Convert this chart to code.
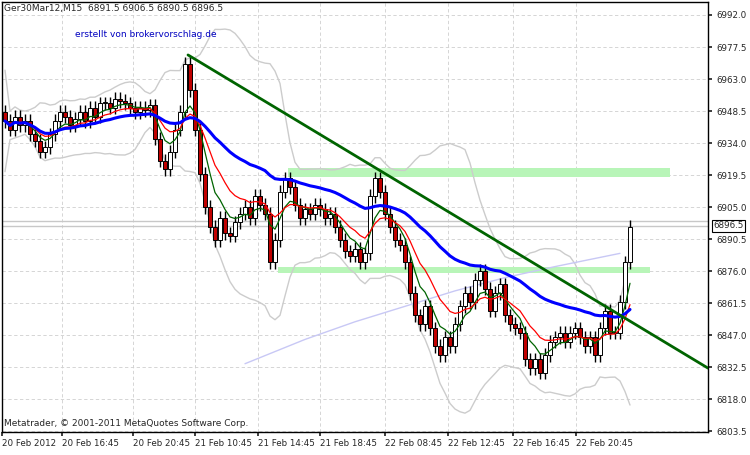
import numpy as np, pandas as pd, matplotlib
matplotlib.use("Agg")
import matplotlib.pyplot as plt, seaborn as sns
from matplotlib.patches import Rectangle

closes = [6944,6940,6946,6942,6944,6938, 6935,6930,6932,6938, 6944,6948,6946,6942,
 6945,6948,6944,6950,6946,6952, 6952,6950,6954,6953,6952,6950,6948,6950,6949,6951,
 6936,6926,6922,6930,6940,6948, 6970,6958,6940,6920, 6905,6896,6890,6900,6893,6892,6898,6902,
 6905,6900,6910,6906,6902,6880,6890, 6912,6918,6914,6906,6900, 6904,6902,6906,6904,6900,6902,
 6896,6890,6885,6883,6886, 6880,6884,6910,6918,6912, 6902,6896,6890,6888,6880,
 6866,6856,6852,6860,6850,6842, 6838,6846,6842,6852,6860, 6866,6862,6872,6876,6868,6858,
 6866,6870,6856,6852,6850,6848, 6836,6832,6836,6830,6838,6844, 6846,6848,6844,6848,6850,6846,
 6842,6846,6838,6850,6858,6848, 6848,6862,6880,6896]
first_open = 6948
slow_i = [48, 60, 70, 80, 90, 100, 110, 123]
slow_v = [6834, 6845, 6853, 6860, 6867, 6873, 6878, 6884]
yticks = [6992.0,6977.5,6963.0,6948.5,6934.0,6919.5,6905.0,6890.5,6876.0,6861.5,6847.0,6832.5,6818.0,6803.5]
xlabels = ["20 Feb 2012","20 Feb 16:45","20 Feb 20:45","21 Feb 10:45","21 Feb 14:45",
           "21 Feb 18:45","22 Feb 08:45","22 Feb 12:45","22 Feb 16:45","22 Feb 20:45"]
xlabel_px = [2,62,133,195,258,320,385,448,513,576]
trend_x = [36.6, 140.6]; trend_y = [6973.9, 6832.0]
zones = [(56.6, 133.0, 6918.6, 6922.7), (54.6, 129.0, 6875.1, 6877.8)]
last_price = 6896.5

sns.set_theme(style="white")
plt.rcParams['font.family'] = ['DejaVu Sans']
c = np.array(closes, float); n = len(c)
o = np.concatenate([[first_open], c[:-1]])
h = np.maximum(o, c) + 3; l = np.minimum(o, c) - 3
idx = np.arange(n)
s = pd.Series(c)
fig = plt.figure(figsize=(7.5, 4.55), dpi=100)
ax = fig.add_axes([2/750, 23/455, 706/750, 430/455])
px2i = lambda p: (p - 5) / 5
ax.set_xlim(px2i(2), px2i(708)); ax.set_ylim(6992 - 0.4531*(432-15), 6992 + 0.4531*13)
for y in yticks:
    ax.axhline(y, color="#cfcfcf", lw=0.6, ls=(0, (4, 3)), zorder=0)
for p in xlabel_px[1:]:
    ax.axvline(px2i(p), color="#cfcfcf", lw=0.6, ls=(0, (4, 3)), zorder=0)
ax.axhline(6898.7, color="#c8c8c8", lw=1, zorder=1)
ax.axhline(last_price, color="#c8c8c8", lw=1, zorder=1)
for x0, x1, y0, y1 in zones:
    ax.add_patch(Rectangle((x0, y0), x1-x0, y1-y0, color="#b8f5b8", zorder=1, lw=0))
mid = s.rolling(20, min_periods=1).mean(); sd = s.rolling(20, min_periods=2).std().fillna(10)
df = pd.DataFrame({"i": idx, "up": mid+2.3*sd, "lo": mid-2.3*sd,
                   "blue": s.ewm(span=40).mean(), "red": s.ewm(span=12).mean(), "green": s.ewm(span=6).mean()})
sns.lineplot(data=df, x="i", y="up", color="#cccccc", lw=1, ax=ax, zorder=2)
sns.lineplot(data=df, x="i", y="lo", color="#cccccc", lw=1, ax=ax, zorder=2)
sns.lineplot(x=slow_i, y=slow_v, color="#c8c8f5", lw=1, ax=ax, zorder=2)
for i in range(n):
    ax.vlines(i, l[i], h[i], color="black", lw=1, zorder=3)
    up = c[i] >= o[i]
    ax.add_patch(Rectangle((i-0.35, min(o[i], c[i])), 0.7, max(abs(c[i]-o[i]), 0.4),
                 facecolor="white" if up else "#c00000", edgecolor="black", lw=0.7, zorder=4))
sns.lineplot(data=df, x="i", y="green", color="#006400", lw=0.9, ax=ax, zorder=5)
sns.lineplot(data=df, x="i", y="red", color="#ff0000", lw=0.9, ax=ax, zorder=5)
sns.lineplot(data=df, x="i", y="blue", color="#0000ff", lw=2.2, ax=ax, zorder=6)
sns.lineplot(x=trend_x, y=trend_y, color="#006400", lw=2, ax=ax, zorder=7)
ax.set_xlabel(""); ax.set_ylabel("")
ax.yaxis.tick_right(); ax.set_yticks(yticks); ax.set_yticklabels([f"{y:.1f}" for y in yticks], fontsize=6.3)
ax.tick_params(axis="y", length=3, pad=3, direction="out", right=True)
ax.set_xticks([px2i(p) for p in xlabel_px]); ax.set_xticklabels(xlabels, fontsize=6.3, ha="left")
ax.tick_params(axis="x", length=3, pad=2, bottom=True)
for sp in ax.spines.values(): sp.set_color("black"); sp.set_linewidth(1)
ax.text(px2i(713), last_price, f"{last_price:.1f}", fontsize=6.3, va="center", ha="left",
        bbox=dict(boxstyle="square,pad=0.15", fc="white", ec="black", lw=0.8), zorder=8, clip_on=False)
ax.text(0.003, 0.995, "Ger30Mar12,M15  6891.5 6906.5 6890.5 6896.5", transform=ax.transAxes, fontsize=6.5, va="top")
ax.text(0.104, 0.935, "erstellt von brokervorschlag.de", transform=ax.transAxes, fontsize=6.5, va="top", color="#0000c0")
ax.text(0.003, 0.01, "Metatrader, © 2001-2011 MetaQuotes Software Corp.", transform=ax.transAxes, fontsize=6.5, va="bottom")
fig.savefig("out.png", dpi=100, facecolor="white")
